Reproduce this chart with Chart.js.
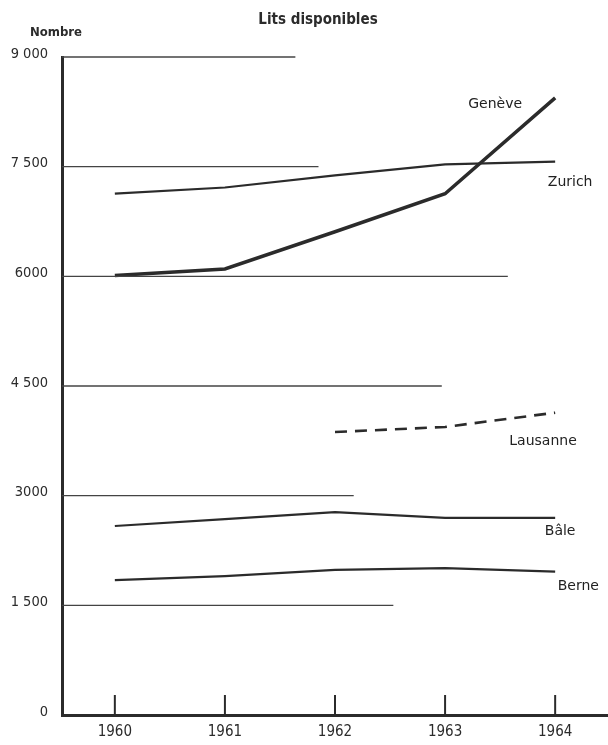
<!DOCTYPE html>
<html>
<head>
<meta charset="utf-8">
<script src="https://cdn.jsdelivr.net/npm/chart.js@4"></script>
<style>
  html, body { margin: 0; padding: 0; background: #fff; }
  #wrap { width: 608px; height: 745px; position: relative; }
</style>
</head>
<body>
<div id="wrap"><canvas id="c"></canvas></div>
<script>
// ---- Data ----
const years = [1960, 1961, 1962, 1963, 1964];
const geneve = [6010, 6100, 6610, 7130, 8440];
const zurich = [7130, 7215, 7380, 7530, 7570];
const lausanneYears = [1962, 1963, 1964];
const lausanne = [3870, 3940, 4135];
const bale = [2585, 2680, 2775, 2695, 2695];
const berne = [1845, 1900, 1985, 2010, 1960];

const yTicks = [0, 1500, 3000, 4500, 6000, 7500, 9000];
const yTickLabels = ["0", "1 500", "3000", "4 500", "6000", "7 500", "9 000"];
// reference lines: value and the year where each drawn line stops
const refValues = [9000, 7500, 6000, 4500, 3000, 1500];
const refEnds = [1961.64, 1961.85, 1963.57, 1962.97, 1962.17, 1962.53];

const seriesNames = ["Genève", "Zurich", "Lausanne", "Bâle", "Berne"];
const labelX = [1963.455, 1964.136, 1963.89, 1964.045, 1964.21];
const labelY = [8358, 7291, 3748, 2517, 1765];

const xMin = 1959.52, xMax = 1964.48;
const INK = '#2b2b2b';
const FONT = '"DejaVu Sans Condensed", "DejaVu Sans", sans-serif';
const FONT_W = '"DejaVu Sans", sans-serif';

const pts = (xs, ys) => xs.map((x, i) => ({ x: x, y: ys[i] }));

const datasets = [];
refValues.forEach((v, i) => {
  datasets.push({
    data: [{ x: xMin, y: v }, { x: refEnds[i], y: v }],
    borderColor: '#444', borderWidth: 1.3, pointRadius: 0, clip: 6
  });
});
datasets.push({ label: seriesNames[0], data: pts(years, geneve), borderColor: INK, borderWidth: 3.5, pointRadius: 0, clip: 6 });
datasets.push({ label: seriesNames[1], data: pts(years, zurich), borderColor: INK, borderWidth: 2.2, pointRadius: 0, clip: 6 });
datasets.push({ label: seriesNames[2], data: pts(lausanneYears, lausanne), borderColor: INK, borderWidth: 2.6, borderDash: [12, 8], pointRadius: 0, clip: 6 });
datasets.push({ label: seriesNames[3], data: pts(years, bale), borderColor: INK, borderWidth: 2.2, pointRadius: 0, clip: 6 });
datasets.push({ label: seriesNames[4], data: pts(years, berne), borderColor: INK, borderWidth: 2.2, pointRadius: 0, clip: 6 });

const decor = {
  id: 'decor',
  afterDraw(chart) {
    const ctx = chart.ctx;
    const xs = chart.scales.x, ys = chart.scales.y;
    ctx.save();
    // inward tick marks on the year axis
    ctx.strokeStyle = INK;
    ctx.lineWidth = 2;
    const y0 = ys.getPixelForValue(0);
    years.forEach(yr => {
      const px = xs.getPixelForValue(yr);
      ctx.beginPath();
      ctx.moveTo(px, y0);
      ctx.lineTo(px, y0 - 20);
      ctx.stroke();
    });
    // title and axis caption
    ctx.fillStyle = INK;
    ctx.textBaseline = 'middle';
    ctx.textAlign = 'center';
    ctx.font = 'bold 15px ' + FONT;
    ctx.fillText('Lits disponibles', 318, 20);
    ctx.font = 'bold 13px ' + FONT;
    ctx.fillText('Nombre', 56, 33);
    // series labels
    ctx.font = '14px ' + FONT_W;
    ctx.fillStyle = '#222';
    seriesNames.forEach((n, i) => {
      ctx.fillText(n, xs.getPixelForValue(labelX[i]), ys.getPixelForValue(labelY[i]));
    });
    ctx.restore();
  }
};

new Chart(document.getElementById('c'), {
  type: 'line',
  data: { datasets: datasets },
  options: {
    responsive: true,
    maintainAspectRatio: false,
    animation: false,
    devicePixelRatio: 1,
    layout: { padding: { top: 57, right: 0, left: 0, bottom: 0 } },
    plugins: { legend: { display: false }, tooltip: { enabled: false }, title: { display: false } },
    elements: { line: { tension: 0 } },
    scales: {
      x: {
        type: 'linear', min: xMin, max: xMax,
        afterBuildTicks: s => { s.ticks = years.map(v => ({ value: v })); },
        afterFit: s => { s.height = 30; },
        grid: { display: false, drawTicks: false },
        border: { display: true, width: 3, color: INK },
        ticks: { color: INK, padding: 8, font: { family: FONT, size: 15 }, callback: v => String(v) }
      },
      y: {
        type: 'linear', min: 0, max: 9000,
        afterBuildTicks: s => { s.ticks = yTicks.map(v => ({ value: v })); },
        afterFit: s => { s.width = 62; },
        grid: { display: false, drawTicks: false },
        border: { display: true, width: 3, color: INK },
        ticks: {
          color: INK, padding: 14, labelOffset: -3,
          font: { family: FONT, size: 14.5 },
          callback: (v) => yTickLabels[yTicks.indexOf(v)]
        }
      }
    }
  },
  plugins: [decor]
});
</script>
</body>
</html>
